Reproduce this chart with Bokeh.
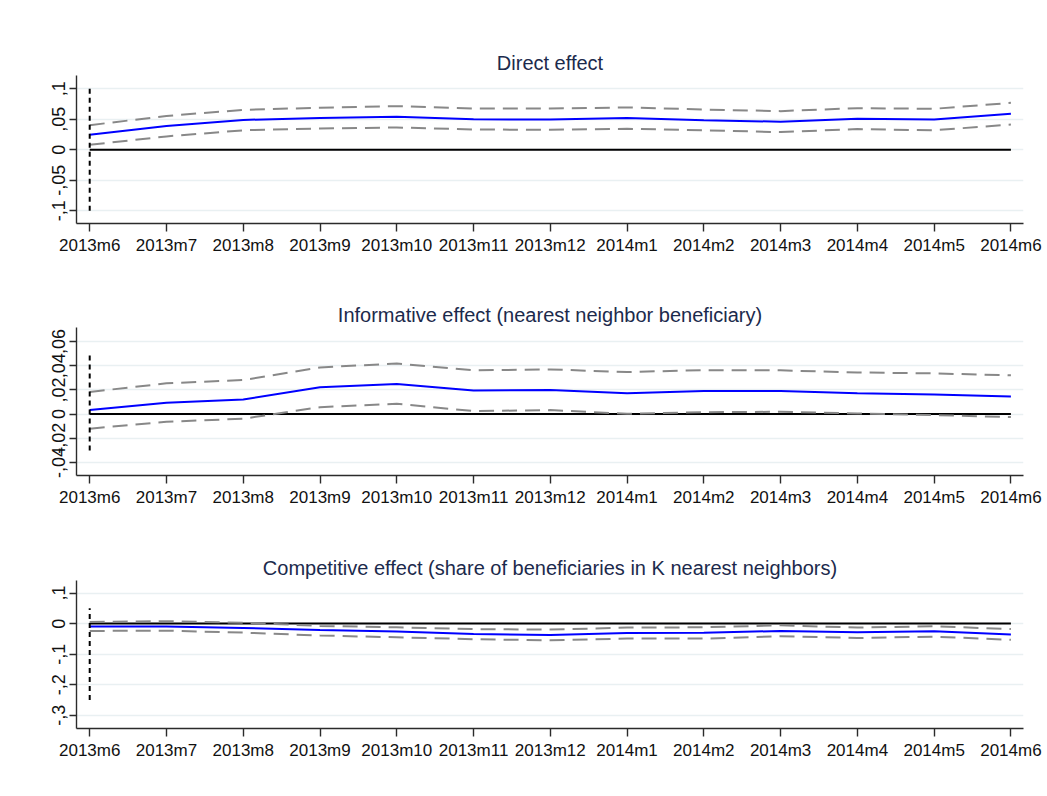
from bokeh.plotting import figure
from bokeh.layouts import column
from bokeh.models import Range1d, FixedTicker, ColumnDataSource
from bokeh.embed import file_html
from bokeh.resources import INLINE

# Event-study estimates, one value per month
months = ["2013m6", "2013m7", "2013m8", "2013m9", "2013m10", "2013m11", "2013m12",
          "2014m1", "2014m2", "2014m3", "2014m4", "2014m5", "2014m6"]

direct_est = [0.0246, 0.039, 0.049, 0.052, 0.054, 0.050, 0.0497, 0.052, 0.0486, 0.046, 0.0508, 0.0497, 0.059]
direct_hi = [0.0404, 0.0555, 0.0655, 0.069, 0.0716, 0.0678, 0.0678, 0.0694, 0.066, 0.0634, 0.0683, 0.0672, 0.077]
direct_lo = [0.0082, 0.022, 0.032, 0.035, 0.0366, 0.0333, 0.0328, 0.0344, 0.032, 0.029, 0.034, 0.032, 0.0415]

info_est = [0.0033, 0.0093, 0.012, 0.0221, 0.0249, 0.0194, 0.0199, 0.0172, 0.0191, 0.0191, 0.0172, 0.0161, 0.0145]
info_hi = [0.0183, 0.0254, 0.0281, 0.0385, 0.0418, 0.0361, 0.0369, 0.0347, 0.0363, 0.0361, 0.0344, 0.0336, 0.032]
info_lo = [-0.012, -0.0063, -0.0038, 0.0057, 0.0085, 0.0025, 0.0033, 0.0003, 0.0016, 0.0019, 0.0005, -0.0008, -0.0025]

comp_est = [-0.0098, -0.0098, -0.014, -0.021, -0.026, -0.034, -0.037, -0.031, -0.030, -0.024, -0.028, -0.025, -0.036]
comp_hi = [0.0055, 0.008, 0.003, -0.0076, -0.012, -0.018, -0.0196, -0.013, -0.012, -0.0055, -0.013, -0.0087, -0.018]
comp_lo = [-0.024, -0.023, -0.0295, -0.039, -0.0447, -0.051, -0.0545, -0.049, -0.049, -0.041, -0.047, -0.0426, -0.053]

# y-axis ticks and their labels (comma decimal separator)
direct_ticks = [-0.1, -0.05, 0.0, 0.05, 0.1]
direct_labels = ["-,1", "-,05", "0", ",05", ",1"]
info_ticks = [-0.04, -0.02, 0.0, 0.02, 0.04, 0.06]
info_labels = ["-,04", "-,02", "0", ",02", ",04", ",06"]
comp_ticks = [-0.3, -0.2, -0.1, 0.0, 0.1]
comp_labels = ["-,3", "-,2", "-,1", "0", ",1"]

# extent of the vertical reference line at the first month
direct_vline = [-0.1, 0.1]
info_vline = [-0.03, 0.05]
comp_vline = [-0.25, 0.05]

FONT = "Liberation Sans"


def panel(title, est, hi, lo, ticks, labels, vline, yr, top):
    x = list(range(len(months)))
    p = figure(frame_width=947, frame_height=148, output_backend="svg",
               toolbar_location=None, x_range=Range1d(-0.172, 12.164),
               y_range=Range1d(*yr), min_border_left=76, min_border_right=24,
               min_border_top=top, min_border_bottom=0, title=title,
               background_fill_color="white", border_fill_color="white")
    p.outline_line_color = None
    p.title.align = "center"
    p.title.text_font = FONT
    p.title.text_font_size = "20px"
    p.title.text_font_style = "normal"
    p.title.text_color = "#1c2a4c"
    p.title.standoff = 3

    p.xgrid.grid_line_color = None
    p.ygrid.grid_line_color = "#e9f0f2"
    p.ygrid.grid_line_width = 1.6

    for ax in (p.xaxis, p.yaxis):
        ax.axis_line_color = "#2b2b2b"
        ax.axis_line_width = 1.4
        ax.major_tick_line_color = "#2b2b2b"
        ax.major_tick_line_width = 1.4
        ax.minor_tick_line_color = None
        ax.major_tick_in = 0
        ax.major_label_text_font = FONT
        ax.major_label_text_color = "#111111"

    p.xaxis.ticker = FixedTicker(ticks=x)
    p.xaxis.major_label_overrides = {i: m for i, m in enumerate(months)}
    p.xaxis.major_label_text_font_size = "17px"
    p.xaxis.major_tick_out = 8
    p.xaxis.major_label_standoff = 4

    p.yaxis.ticker = FixedTicker(ticks=ticks)
    p.yaxis.major_label_overrides = {t: l for t, l in zip(ticks, labels)}
    p.yaxis.major_label_text_font_size = "18px"
    p.yaxis.major_tick_out = 7
    p.yaxis.major_label_standoff = 4
    p.yaxis.major_label_orientation = "vertical"

    src = ColumnDataSource(dict(x=x, est=est, hi=hi, lo=lo, zero=[0.0] * len(x)))
    p.line("x", "zero", source=src, line_color="black", line_width=2)
    p.line("x", "hi", source=src, line_color="#888888", line_width=2, line_dash="15 8")
    p.line("x", "lo", source=src, line_color="#888888", line_width=2, line_dash="15 8")
    p.line("x", "est", source=src, line_color="#0000ff", line_width=2)
    p.segment(x0=[x[0]], y0=[vline[0]], x1=[x[0]], y1=[vline[1]],
              line_color="black", line_width=2, line_dash="5 4")
    return p


p1 = panel("Direct effect", direct_est, direct_hi, direct_lo, direct_ticks,
           direct_labels, direct_vline, (-0.1208, 0.1218), 75)
p2 = panel("Informative effect (nearest neighbor beneficiary)", info_est, info_hi,
           info_lo, info_ticks, info_labels, info_vline, (-0.0507, 0.0715), 70)
p3 = panel("Competitive effect (share of beneficiaries in K nearest neighbors)",
           comp_est, comp_hi, comp_lo, comp_ticks, comp_labels, comp_vline,
           (-0.343, 0.141), 71)

layout = column(p1, p2, p3, spacing=0)
open("out.html", "w").write(file_html(layout, INLINE))
